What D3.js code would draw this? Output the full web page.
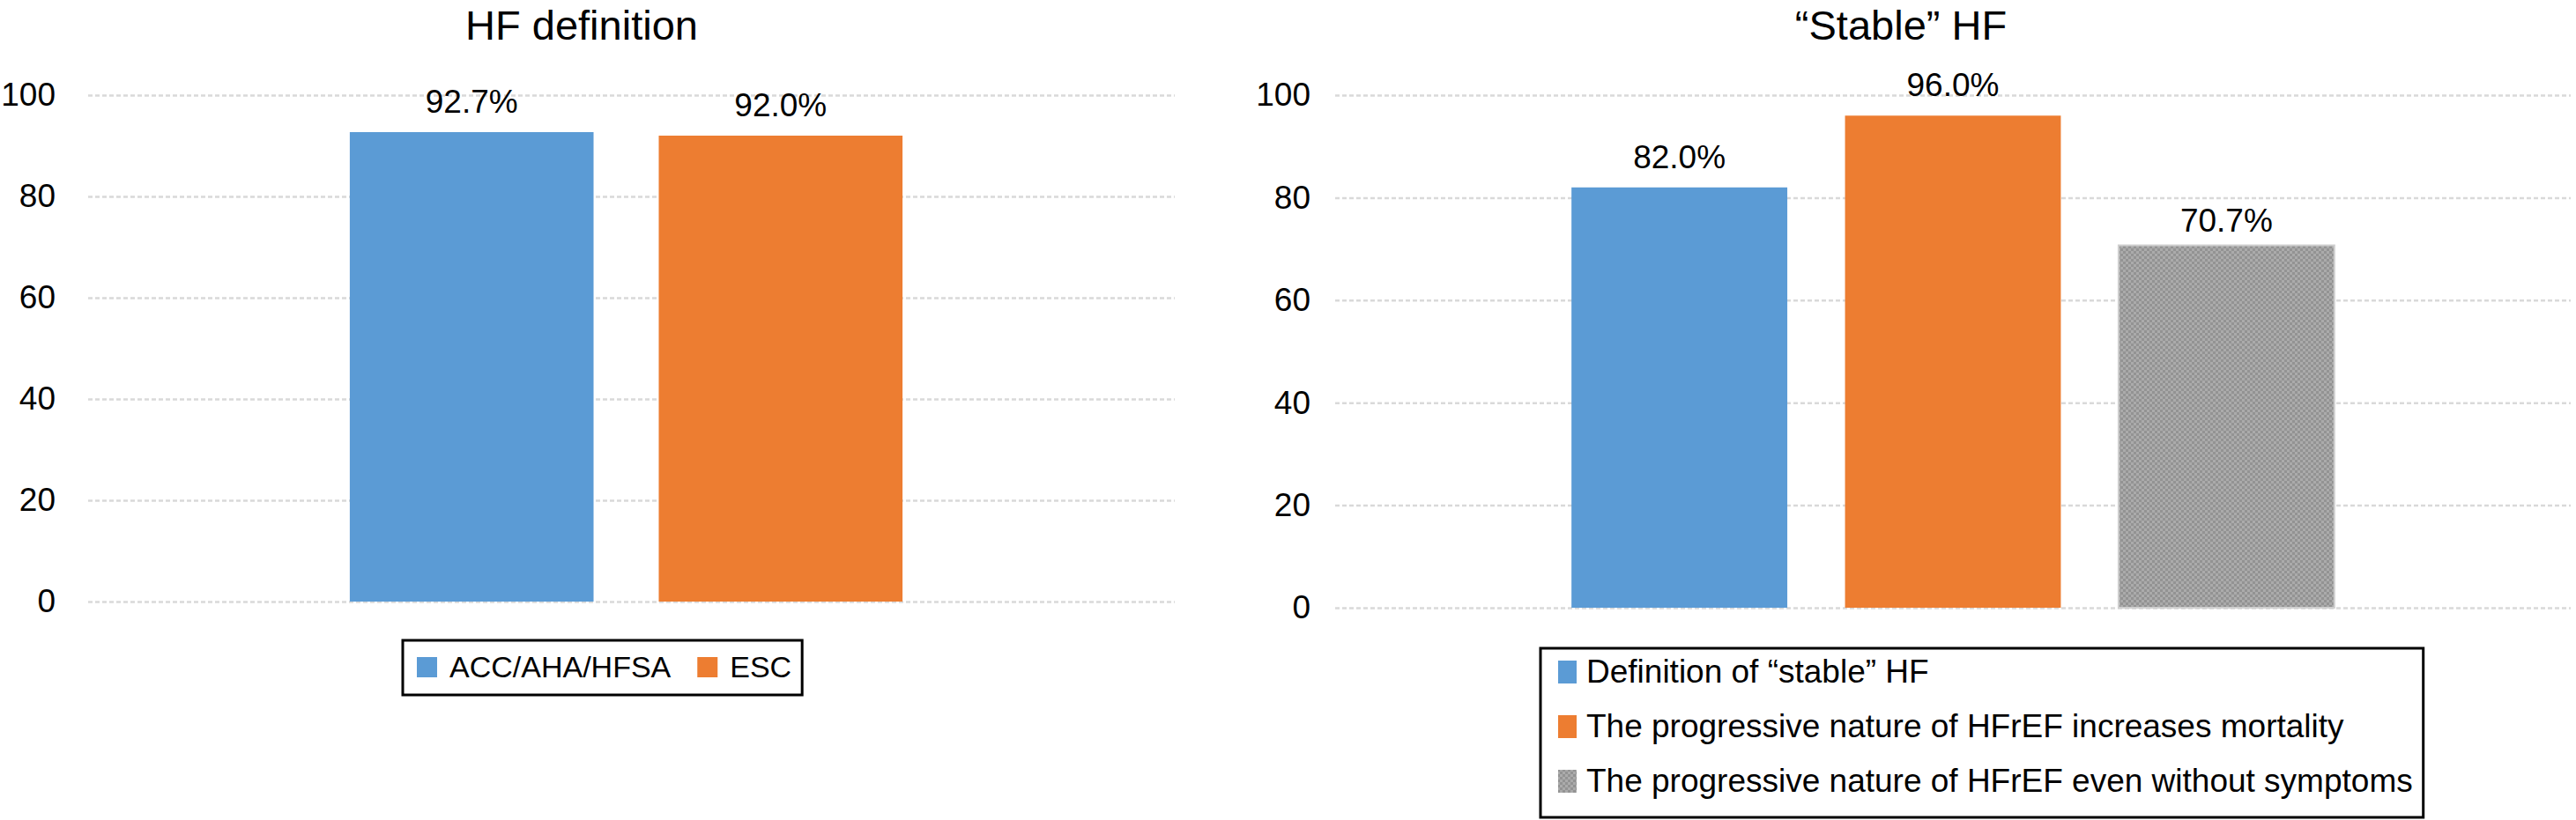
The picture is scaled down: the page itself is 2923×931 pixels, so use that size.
<!DOCTYPE html>
<html><head><meta charset="utf-8">
<script src="https://cdn.jsdelivr.net/npm/d3@7"></script>
<style>
body{margin:0;background:#fff}
svg{display:block}
text{font-family:"Liberation Sans",Arial,Helvetica,sans-serif;fill:#000}
</style>
</head><body>
<svg id="c" width="2923" height="931"></svg>
<script>
// ---- data ----
const leftTitle = "HF definition";
const leftSeries = ["ACC/AHA/HFSA", "ESC"];
const leftValues = [92.7, 92.0];

const rightTitle = "\u201CStable\u201D HF";
const rightSeries = [
  "Definition of \u201Cstable\u201D HF",
  "The progressive nature of HFrEF increases mortality",
  "The progressive nature of HFrEF even without symptoms"
];
const rightValues = [82.0, 96.0, 70.7];

const yTicks = [0, 20, 40, 60, 80, 100];
const seriesFills = ["#5B9BD5", "#ED7D31", "url(#grayPat)"];

// ---- layout ----
const svg = d3.select("#c");
const defs = svg.append("defs");
const pat = defs.append("pattern").attr("id", "grayPat")
  .attr("patternUnits", "userSpaceOnUse").attr("width", 6).attr("height", 6);
pat.append("rect").attr("width", 6).attr("height", 6).attr("fill", "#ababab");
pat.append("rect").attr("x", 0).attr("y", 0).attr("width", 3).attr("height", 3).attr("fill", "#939393");
pat.append("rect").attr("x", 3).attr("y", 3).attr("width", 3).attr("height", 3).attr("fill", "#939393");

function drawChart(cfg) {
  const g = svg.append("g");
  const y = d3.scaleLinear().domain([0, 100]).range([cfg.yBottom, cfg.yTop]);
  const x = d3.scaleBand().domain(cfg.series).range([cfg.x0 + cfg.barShift, cfg.x1 + cfg.barShift])
    .paddingInner(0.211).paddingOuter(0.864);

  // title
  g.append("text").attr("x", cfg.titleX).attr("y", 45)
    .attr("text-anchor", "middle").attr("font-size", 47).text(cfg.title);

  // gridlines
  const grid = g.append("g").attr("transform", `translate(${cfg.x0},0)`)
    .call(d3.axisLeft(y).tickValues(yTicks).tickSize(-(cfg.x1 - cfg.x0)).tickFormat(""));
  grid.select(".domain").remove();
  grid.selectAll(".tick line").attr("stroke", "#d9d9d9").attr("stroke-width", 2.5)
    .attr("stroke-dasharray", "5,3");

  // y labels
  const ax = g.append("g").attr("transform", `translate(${cfg.labelX},0)`)
    .call(d3.axisLeft(y).tickValues(yTicks).tickSize(0).tickPadding(0));
  ax.select(".domain").remove();
  ax.selectAll("text").attr("font-size", 37).attr("font-family", null).attr("fill", "#000");

  // bars
  g.selectAll(".bar").data(cfg.values).enter().append("rect")
    .attr("x", (d, i) => x(cfg.series[i]))
    .attr("width", x.bandwidth())
    .attr("y", d => y(d))
    .attr("height", d => y(0) - y(d))
    .attr("fill", (d, i) => seriesFills[i])
    .attr("stroke", (d, i) => i === 2 ? "#cfcfcf" : "none")
    .attr("stroke-width", 2);

  // value labels
  g.selectAll(".vl").data(cfg.values).enter().append("text")
    .attr("x", (d, i) => x(cfg.series[i]) + x.bandwidth() / 2)
    .attr("y", (d, i) => y(d) - (i === 2 ? 16 : 22))
    .attr("text-anchor", "middle").attr("font-size", 37)
    .text(d => d3.format(".1f")(d) + "%");

  // legend
  const L = cfg.legend;
  const lg = g.append("g");
  const box = lg.append("rect").attr("x", L.x).attr("y", L.y).attr("height", L.h)
    .attr("fill", "#fff").attr("stroke", "#000").attr("stroke-width", 3);
  let maxRight = 0;
  if (L.type === "row") {
    let cx = L.x + 16;
    cfg.series.forEach((s, i) => {
      lg.append("rect").attr("x", cx).attr("y", L.baseline - 23).attr("width", 23).attr("height", 23)
        .attr("fill", seriesFills[i]);
      const t = lg.append("text").attr("x", cx + 37).attr("y", L.baseline)
        .attr("font-size", L.fs).text(s);
      const w = t.node().getComputedTextLength();
      maxRight = cx + 37 + w;
      cx = maxRight + 30;
    });
    box.attr("width", maxRight + 12 - L.x);
  } else {
    cfg.series.forEach((s, i) => {
      const bl = L.baseline + i * L.rowStep;
      lg.append("rect").attr("x", L.x + 20).attr("y", bl - 25).attr("width", 21).attr("height", 26)
        .attr("fill", seriesFills[i]);
      const t = lg.append("text").attr("x", L.x + 52).attr("y", bl)
        .attr("font-size", L.fs).text(s);
      maxRight = Math.max(maxRight, L.x + 52 + t.node().getComputedTextLength());
    });
    box.attr("width", maxRight + 12 - L.x);
  }
}

drawChart({
  title: leftTitle, series: leftSeries, values: leftValues,
  x0: 100, x1: 1333, barShift: -6, yTop: 108, yBottom: 683, labelX: 63, titleX: 660,
  legend: { type: "row", x: 457, y: 727, h: 62, baseline: 769, fs: 34 }
});

drawChart({
  title: rightTitle, series: rightSeries, values: rightValues,
  x0: 1515, x1: 2917, barShift: 0, yTop: 108, yBottom: 690, labelX: 1487, titleX: 2157,
  legend: { type: "column", x: 1748, y: 736, h: 192, baseline: 775, rowStep: 62, fs: 37 }
});
</script>
</body></html>
